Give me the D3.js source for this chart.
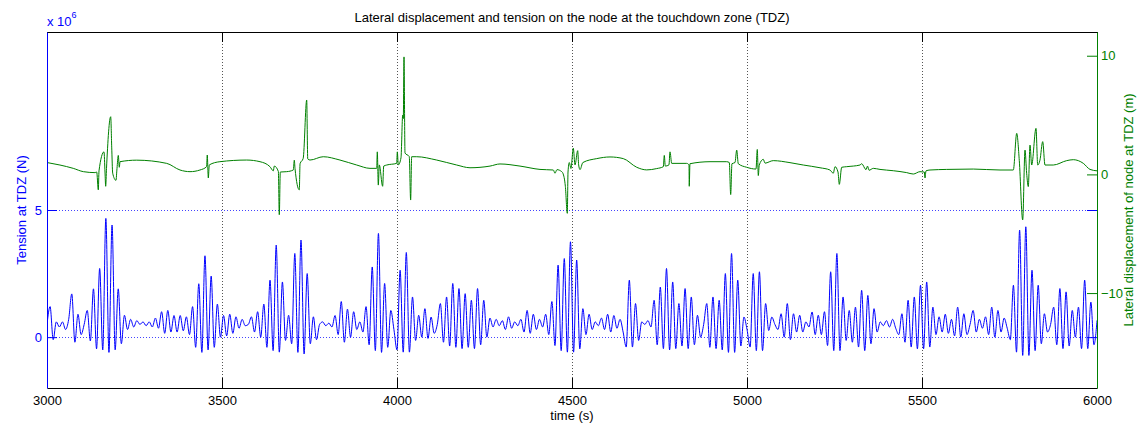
<!DOCTYPE html>
<html><head><meta charset="utf-8">
<script src="https://cdn.jsdelivr.net/npm/d3@7"></script>
<style>
body{margin:0;background:#fff}
svg{display:block}
text{font-family:"Liberation Sans",Arial,Helvetica,sans-serif}
</style>
</head><body>
<svg id="chart" width="1143" height="433"></svg>
<script>
// ---------- data ----------
const titleText = "Lateral displacement and tension on the node at the touchdown zone (TDZ)";
const xLabelText = "time (s)";
const leftLabelText = "Tension at TDZ (N)";
const rightLabelText = "Lateral displacement of node at TDZ (m)";
const xTicks = [3000, 3500, 4000, 4500, 5000, 5500, 6000];
const leftTicks = [0, 5];
const rightTicks = [-10, 0, 10];

// tension (x 1e6 N), successive extremes sampled every tensionStep seconds from 3000 s
const tensionStart = 3000, tensionStep = 8.85;
const tension = [
  0.5,1.2,-0.1,0.6,0.4,0.6,0.3,0.7,1.7,-0.2,
  0.9,0.1,0.5,1.05,-0.15,1.9,-0.46,2.7,-0.5,4.67,
  -0.6,4.41,-0.5,1.9,-0.26,0.86,0.3,0.7,0.4,0.65,
  0.5,0.6,0.45,0.6,0.4,0.75,0.35,1.0,0.15,1.05,
  0.2,0.85,0.2,0.85,0.25,0.8,0.1,1.2,-0.4,2.1,
  -0.6,3.2,-0.5,2.4,-0.4,1.3,0.0,0.85,0.05,0.9,
  0.15,0.8,0.35,0.7,0.45,0.5,0.8,0.2,1.0,0.0,
  1.3,-0.4,2.24,-0.53,3.62,-0.59,2.17,-0.13,0.86,-0.26,
  3.29,-0.6,3.82,-0.66,2.5,-0.26,0.8,-0.1,0.5,0.6,
  0.45,0.55,0.4,0.85,0.1,1.4,-0.2,1.1,0.0,1.0,
  0.3,0.6,0.2,1.2,-0.3,2.76,-0.53,4.08,-0.6,2.11,
  -0.4,1.05,0.3,-0.5,2.63,-0.59,3.33,-0.59,1.58,-0.13,
  0.86,0.0,1.12,-0.05,0.79,0.15,0.5,1.32,-0.2,1.58,
  -0.35,2.11,-0.4,1.91,-0.45,1.71,-0.4,1.45,-0.45,1.91,
  -0.3,1.45,0.0,0.75,0.4,0.7,0.45,0.65,0.3,0.8,
  0.35,0.6,0.45,0.7,0.2,1.05,0.15,0.9,0.3,0.7,
  0.4,0.9,0.1,1.4,-0.33,2.83,-0.53,3.09,-0.59,3.75,
  -0.59,3.03,-0.46,1.12,0.1,0.9,0.3,0.6,0.45,0.75,
  0.3,0.9,0.2,0.85,0.35,0.7,0.2,-0.39,2.24,-0.39,
  1.32,-0.13,0.6,0.5,0.65,0.4,1.45,-0.3,1.97,-0.45,
  2.7,-0.5,2.17,-0.45,1.32,-0.35,1.91,-0.45,1.58,-0.3,
  0.86,0.0,0.5,1.32,-0.4,1.58,-0.45,1.45,-0.5,2.5,
  -0.6,3.29,-0.6,2.24,-0.35,0.79,0.3,-0.39,2.5,-0.53,
  2.57,-0.53,1.32,0.26,0.79,0.5,0.3,0.92,0.0,1.32,
  -0.1,0.92,0.2,0.86,0.2,0.6,0.4,0.99,0.1,0.86,
  0.1,1.0,-0.33,2.57,-0.53,3.29,-0.53,1.58,-0.13,1.05,
  -0.2,1.18,-0.39,1.84,-0.53,1.64,-0.26,1.12,0.2,0.6,
  0.45,0.65,0.4,0.7,0.35,0.1,0.92,-0.2,1.45,-0.39,
  1.58,-0.46,2.04,-0.46,2.17,-0.39,1.18,0.1,0.8,0.2,
  0.9,0.15,0.7,0.05,1.18,0.0,0.92,0.1,0.5,1.05,
  0.2,0.7,0.35,0.8,0.1,1.18,0.0,1.05,0.2,0.75,
  0.35,-0.1,2.04,-0.59,4.21,-0.72,4.34,-0.72,2.63,-0.53,
  2.04,-0.26,0.92,0.2,0.5,1.18,-0.3,1.91,-0.45,1.78,
  -0.35,1.05,0.0,1.18,-0.45,2.24,-0.45,1.38,-0.3,0.66
];

// lateral displacement (m)
const dispTime = [
  3000,3037,3075,3104,3137,3142,3146.6,3148.6,3162.9,3165.7,
  3167.7,3170,3182,3184.9,3187.7,3197,3200,3203.7,3206.6,3208.6,
  3256.3,3342,3380,3408.6,3437,3456,3457.9,3460.9,3463.7,3494,
  3570.6,3608.6,3637,3646.6,3649.4,3661,3663.7,3666.6,3684.9,3703.7,
  3706.6,3708.6,3720.9,3723,3732,3742,3745,3751.4,3789.4,3837,
  3884.9,3922.9,3942,3943.7,3946.6,3949.4,3959,3962,3970.6,3999,
  4000.9,4003.7,4011.4,4016.3,4018,4020,4022.9,4035,4039,4041.9,
  4056.3,4113.4,4170.6,4208.6,4265.7,4294.3,4351.4,4408.6,4446.6,4451.4,
  4457,4470.6,4474,4481,4486.6,4488.6,4492.3,4497,4503.7,4508.6,
  4516.3,4519,4522.9,4531,4570.6,4608.6,4646.6,4684.9,4713.4,4742,
  4761,4763.7,4766.6,4777,4780,4784.9,4827.7,4834.3,4835,4837,
  4894.3,4942,4949.4,4953.4,4957,4965.7,4970.6,4975.1,4999,5025.7,
  5029.4,5032.3,5035,5046.6,5051.4,5075,5122.9,5160.9,5208.6,5237,
  5246.6,5251.4,5260,5263.7,5270.6,5284.9,5322.9,5327.7,5340,5344.3,
  5348.6,5360.9,5380,5418,5456.3,5475.1,5494.3,5506.6,5508.6,5511.4,
  5522.9,5570.6,5646.6,5722.9,5760.9,5770.6,5778,5787.7,5794.3,5799,
  5803.7,5808.6,5813.4,5825.7,5830.6,5837,5844.9,5851.4,5875.1,5913.4,
  5932.3,5961,5980,6000
];
const dispValue = [
  1.0,0.79,0.51,0.23,0.15,0.2,-1.3,0.3,1.9,0.2,
  -1.0,0.5,4.86,2.3,0.1,-0.5,0.5,1.6,0.6,1.07,
  1.2,0.93,0.37,0.23,0.37,0.65,1.63,-0.3,0.8,1.07,
  1.21,1.07,0.65,0.3,0.7,0.25,-3.4,0.2,0.23,0.37,
  1.2,0.5,-1.3,0.9,1.35,6.27,1.3,1.21,1.49,1.21,
  0.79,0.51,0.51,1.9,-0.9,0.8,-1.0,0.7,0.79,0.93,
  1.9,0.8,1.4,5.0,4.7,9.9,1.8,1.5,-2.16,1.49,
  1.49,1.21,0.79,0.56,0.7,0.88,0.7,0.42,0.37,0.1,
  0.4,0.23,0.1,-1.0,-3.28,0.2,1.0,0.5,2.2,0.8,
  2.0,0.8,0.4,1.0,1.33,1.47,1.33,0.6,0.38,0.49,
  0.65,1.6,0.7,0.8,1.9,0.93,0.93,0.8,-1.0,0.9,
  1.07,1.07,1.0,-1.7,0.9,1.0,2.05,0.9,0.6,0.45,
  2.1,-0.1,0.79,1.27,0.95,1.16,0.99,0.79,0.56,0.37,
  0.1,0.65,0.2,-0.84,0.6,0.65,0.79,0.9,0.4,0.7,
  0.35,0.51,0.42,0.31,0.15,0.03,0.23,0.2,-0.3,0.3,
  0.37,0.42,0.45,0.37,0.37,3.46,1.16,-3.84,2.05,0.1,
  -1.03,2.47,0.79,3.88,0.79,1.2,2.76,0.79,0.79,1.16,
  1.24,0.93,0.42,0.3
];

// ---------- drawing ----------
const blue = "#0000ff", green = "#008000";
const M = {l: 47, r: 1097, t: 32, b: 388};
const svg = d3.select("#chart");
svg.append("rect").attr("width", 1143).attr("height", 433).attr("fill", "#fff");

const x = d3.scaleLinear().domain([3000, 6000]).range([M.l, M.r]);
const yL = d3.scaleLinear().domain([-2, 12]).range([M.b, M.t]);
const yR = d3.scaleLinear().domain([-18, 12]).range([M.b, M.t]);

svg.append("defs").append("clipPath").attr("id", "clip")
  .append("rect").attr("x", M.l).attr("y", M.t).attr("width", M.r - M.l).attr("height", M.b - M.t);

// grids
const grid = svg.append("g");
grid.selectAll("line.xg").data(xTicks.slice(1, -1)).join("line")
  .attr("x1", d => Math.round(x(d)) + 0.5).attr("x2", d => Math.round(x(d)) + 0.5)
  .attr("y1", M.t).attr("y2", M.b)
  .attr("stroke", "#555").attr("stroke-width", 1).attr("stroke-dasharray", "1,2");
grid.selectAll("line.yg").data(leftTicks).join("line")
  .attr("x1", M.l).attr("x2", M.r)
  .attr("y1", d => Math.round(yL(d)) + 0.5).attr("y2", d => Math.round(yL(d)) + 0.5)
  .attr("stroke", "#4444ff").attr("stroke-width", 1).attr("stroke-dasharray", "1,2");

// tension line
const tData = tension.map((v, i) => [tensionStart + i * tensionStep, v]);
svg.append("path").datum(tData)
  .attr("clip-path", "url(#clip)")
  .attr("fill", "none").attr("stroke", blue).attr("stroke-width", 1)
  .attr("stroke-linejoin", "round")
  .attr("d", d3.line().curve(d3.curveMonotoneX).x(d => x(d[0])).y(d => yL(d[1])));

// displacement line
const dData = dispTime.map((t, i) => [t, dispValue[i]]);
svg.append("path").datum(dData)
  .attr("clip-path", "url(#clip)")
  .attr("fill", "none").attr("stroke", green).attr("stroke-width", 1)
  .attr("stroke-linejoin", "round")
  .attr("d", d3.line().curve(d3.curveMonotoneX).x(d => x(d[0])).y(d => yR(d[1])));

const fs = 13;
// bottom axis
const gx = svg.append("g").attr("transform", `translate(0,${M.b})`)
  .call(d3.axisBottom(x).tickValues(xTicks).tickFormat(d3.format("d"))
    .tickSize(-10).tickSizeOuter(0).tickPadding(8));
gx.select(".domain").attr("stroke", "#000");
gx.selectAll(".tick line").attr("stroke", "#000");
gx.selectAll(".tick text").attr("fill", "#000").style("font-size", fs + "px")
  .style("font-family", '"Liberation Sans",Arial,sans-serif');

// top axis (box)
const gt = svg.append("g").attr("transform", `translate(0,${M.t})`)
  .call(d3.axisTop(x).tickValues(xTicks).tickFormat("").tickSize(-10).tickSizeOuter(0));
gt.select(".domain").attr("stroke", "#000");
gt.selectAll(".tick line").attr("stroke", "#000");

// left axis
const gl = svg.append("g").attr("transform", `translate(${M.l},0)`)
  .call(d3.axisLeft(yL).tickValues(leftTicks).tickFormat(d3.format("d"))
    .tickSize(-10).tickSizeOuter(0).tickPadding(5));
gl.select(".domain").attr("stroke", blue);
gl.selectAll(".tick line").attr("stroke", blue);
gl.selectAll(".tick text").attr("fill", blue).style("font-size", fs + "px")
  .style("font-family", '"Liberation Sans",Arial,sans-serif');

// blue ticks mirrored on right side
const glr = svg.append("g").attr("transform", `translate(${M.r},0)`)
  .call(d3.axisRight(yL).tickValues(leftTicks).tickFormat("").tickSize(-10).tickSizeOuter(0));
glr.select(".domain").remove();
glr.selectAll(".tick line").attr("stroke", blue);

// right axis (green)
const gr = svg.append("g").attr("transform", `translate(${M.r},0)`)
  .call(d3.axisRight(yR).tickValues(rightTicks).tickFormat(d3.format("d"))
    .tickSize(-10).tickSizeOuter(0).tickPadding(4));
gr.select(".domain").attr("stroke", green);
gr.selectAll(".tick line").attr("stroke", green);
gr.selectAll(".tick text").attr("fill", green).style("font-size", fs + "px")
  .style("font-family", '"Liberation Sans",Arial,sans-serif');

// texts
svg.append("text").attr("x", (M.l + M.r) / 2).attr("y", 22)
  .attr("text-anchor", "middle").style("font-size", fs + "px").attr("fill", "#000")
  .text(titleText);
svg.append("text").attr("x", (M.l + M.r) / 2).attr("y", 420)
  .attr("text-anchor", "middle").style("font-size", fs + "px").attr("fill", "#000")
  .text(xLabelText);
svg.append("text").attr("transform", `translate(26,${(M.t + M.b) / 2}) rotate(-90)`)
  .attr("text-anchor", "middle").style("font-size", fs + "px").attr("fill", blue)
  .text(leftLabelText);
svg.append("text").attr("transform", `translate(1133,${(M.t + M.b) / 2}) rotate(-90)`)
  .attr("text-anchor", "middle").style("font-size", fs + "px").attr("fill", green)
  .text(rightLabelText);
const exp = svg.append("text").attr("x", 47).attr("y", 26).style("font-size", fs + "px").attr("fill", blue);
exp.append("tspan").text("x 10");
exp.append("tspan").attr("dy", -8).style("font-size", "9px").text("6");
</script>
</body></html>
